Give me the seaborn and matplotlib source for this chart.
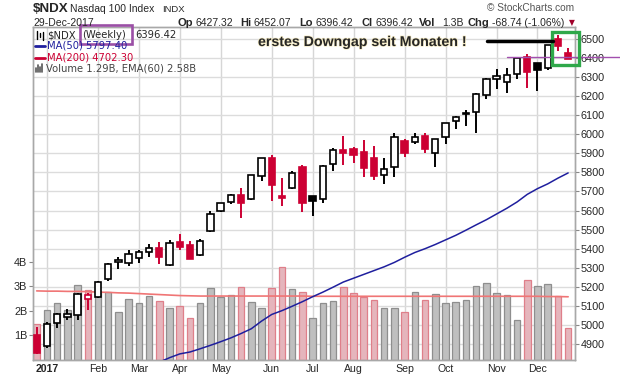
import matplotlib
matplotlib.use("Agg")
import matplotlib.pyplot as plt
import matplotlib.patheffects as pe
from matplotlib.patches import Rectangle
from matplotlib.lines import Line2D
from matplotlib.transforms import blended_transform_factory
import seaborn as sns

# weekly candles, last week of 2016 .. week of 29-Dec-2017
opens = [4947, 4891, 5008, 5040, 5050, 5138, 5148, 5239, 5329, 5323, 5350, 5381, 5402, 5313,
         5434, 5419, 5365, 5494, 5596, 5645, 5680, 5659, 5781, 5876, 5676, 5718, 5829, 5676,
         5659, 5844, 5916, 5921, 5906, 5874, 5785, 5830, 5965, 5958, 5990, 5900, 5984, 6068,
         6107, 6116, 6205, 6289, 6276, 6315, 6406, 6373, 6346, 6500, 6427.32]
highs = [4991, 5014, 5064, 5084, 5169, 5168, 5231, 5323, 5356, 5391, 5391, 5425, 5435, 5444,
         5477, 5439, 5449, 5598, 5640, 5687, 5718, 5787, 5876, 5892, 5771, 5808, 5839, 5677,
         5839, 5928, 5991, 5933, 5970, 5939, 5874, 6007, 5975, 6007, 6007, 5975, 6060, 6096,
         6128, 6217, 6294, 6341, 6350, 6405, 6420, 6373, 6470, 6521, 6452.07]
lows = [4848, 4877, 4985, 5024, 5028, 5078, 5143, 5232, 5295, 5311, 5327, 5355, 5321, 5310,
        5393, 5345, 5360, 5489, 5594, 5633, 5563, 5654, 5757, 5652, 5624, 5715, 5594, 5573,
        5641, 5809, 5840, 5851, 5778, 5762, 5741, 5778, 5881, 5949, 5903, 5830, 5948, 6029,
        6045, 6005, 6187, 6239, 6218, 6292, 6241, 6229, 6337, 6437, 6396.42]
closes = [4854, 5003, 5056, 5057, 5161, 5156, 5225, 5318, 5339, 5372, 5381, 5402, 5358, 5428,
          5410, 5348, 5440, 5580, 5638, 5680, 5641, 5785, 5874, 5736, 5666, 5796, 5641, 5649,
          5832, 5916, 5903, 5893, 5825, 5783, 5817, 5984, 5903, 5984, 5925, 5974, 6058, 6089,
          6110, 6210, 6289, 6306, 6311, 6402, 6329, 6337, 6467, 6465.16, 6396.42]
close_before = 4942  # close of the week before the first candle

# volume in billions
volumes = [1.46, 2.03, 2.31, 2.03, 3.05, 2.84, 2.80, 2.76, 1.95, 2.48, 2.31, 2.60, 2.40, 2.11,
           2.19, 1.70, 2.31, 2.93, 2.59, 2.64, 2.97, 2.35, 2.11, 2.93, 3.78, 2.88, 2.76, 1.70,
           2.31, 2.40, 2.97, 2.72, 2.56, 2.44, 2.11, 2.11, 1.95, 2.76, 2.44, 2.68, 2.31, 2.35,
           2.44, 3.01, 3.13, 2.72, 2.64, 1.62, 3.25, 3.01, 3.09, 2.60, 1.29]
ema60 = [2.82, 2.81, 2.81, 2.80, 2.80, 2.79, 2.77, 2.76, 2.74, 2.73, 2.71, 2.69, 2.67, 2.65,
         2.63, 2.62, 2.61, 2.61, 2.61, 2.61, 2.61, 2.61, 2.61, 2.61, 2.61, 2.61, 2.61, 2.60,
         2.60, 2.60, 2.60, 2.60, 2.60, 2.60, 2.60, 2.60, 2.60, 2.60, 2.60, 2.60, 2.60, 2.60,
         2.60, 2.60, 2.60, 2.60, 2.60, 2.60, 2.60, 2.60, 2.59, 2.59, 2.58]

ma50_weeks = list(range(12, 53))
ma50 = [4805, 4828, 4848, 4858, 4875, 4893, 4912, 4932, 4955, 4980, 5020, 5055, 5075, 5098,
        5122, 5148, 5172, 5198, 5225, 5245, 5265, 5285, 5305, 5328, 5355, 5380, 5400, 5422,
        5446, 5470, 5497, 5525, 5552, 5582, 5612, 5645, 5685, 5715, 5740, 5770, 5797.4]

month_pos = [1, 6, 10, 14, 18, 23, 27, 31, 36, 40, 45, 49]
month_labels = ["2017", "Feb", "Mar", "Apr", "May", "Jun", "Jul", "Aug", "Sep", "Oct", "Nov", "Dec"]
price_ticks = list(range(4900, 6600, 100))
vol_ticks = [1, 2, 3, 4]
vol_labels = ["1B", "2B", "3B", "4B"]

sns.set_style("white")
plt.rcParams["font.family"] = ["Liberation Sans", "DejaVu Sans"]

W, H = 620, 376
fig = plt.figure(figsize=(6.2, 3.76), dpi=100)


def fx(x):
    return x / W


def fy(y):
    return 1 - y / H


ax = fig.add_axes([fx(33), fy(360), fx(575) - fx(33), fy(27) - fy(360)])
axp = ax.twinx()

RED = "#cc0033"
weeks = list(range(len(closes)))
prev = [close_before] + closes[:-1]
down = [c < p for c, p in zip(closes, prev)]

# volume bars
ax.bar(weeks, volumes, width=0.64,
       color=["#e5b5bc" if d else "#bfbfbf" for d in down],
       edgecolor=["#df7f8a" if d else "#8e8e8e" for d in down], linewidth=0.9, zorder=2)
sns.lineplot(x=weeks, y=ema60, ax=ax, color="#f07575", lw=1.2, zorder=3)

# price grid on volume axes so it stays behind the bars
tr = blended_transform_factory(ax.transAxes, axp.transData)
for p in price_ticks:
    ax.plot([0, 1], [p, p], transform=tr, color="#dcdcdc", lw=1.0, zorder=1)
ax.set_xticks(month_pos)
ax.set_xticklabels(month_labels)
ax.xaxis.grid(True, color="#d6d6d6", lw=1.0, zorder=1)
ax.tick_params(axis="x", length=0, pad=3, labelsize=7.6)
ax.get_xticklabels()[0].set_fontweight("bold")
ax.set_yticks(vol_ticks)
ax.set_yticklabels(vol_labels)
ax.tick_params(axis="y", length=3, pad=1, labelsize=7.8, color="#888888")
ax.set_xlim(-0.36, 52.67)
ax.set_ylim(0, 13.59)

# MA(50)
sns.lineplot(x=ma50_weeks, y=ma50, ax=axp, color="#1f1f9e", lw=1.1, zorder=3)

# candles
for i in weeks:
    o, h, l, c = opens[i], highs[i], lows[i], closes[i]
    col = RED if down[i] else "black"
    axp.vlines(i, l, h, color=col, lw=1.4, zorder=4)
    face = "white" if c >= o else col
    axp.add_patch(Rectangle((i - 0.31, min(o, c)), 0.62, max(abs(c - o), 2),
                            facecolor=face, edgecolor=col, lw=1.2, zorder=5))

axp.set_ylim(4816, 6563)
axp.set_yticks(price_ticks)
axp.tick_params(axis="y", length=3, pad=1, labelsize=7.8, color="#888888")
axp.set_xlim(-0.36, 52.67)

for a in (ax, axp):
    for s in a.spines.values():
        s.set_color("#a8a8a8")
        s.set_linewidth(1.0)

# annotations
axp.plot([45.97, 57.1], [6404, 6404], color="#a24fae", lw=1.0, clip_on=False, zorder=6)
axp.add_patch(Rectangle((50.39, 6364), 2.67, 174, fill=False, edgecolor="#2fa84a",
                        lw=2.4, clip_on=False, zorder=7))
fig.text(fx(258), fy(42), "erstes Downgap seit Monaten !", fontsize=10.2, weight="bold",
         va="center", path_effects=[pe.withStroke(linewidth=1.0, foreground="#f6ecc4")])
fig.add_artist(Line2D([fx(487), fx(553)], [fy(41), fy(41)], color="black", lw=2.5))

# header
fig.text(fx(33), fy(9), "$NDX", fontsize=9.6, weight="bold", va="center")
fig.text(fx(70), fy(9), "Nasdaq 100 Index", fontsize=7.5, va="center")
fig.text(fx(162), fy(9.5), "INDX", fontsize=6.8, va="center")
fig.text(fx(487), fy(8), "\u00a9 StockCharts.com", fontsize=7.3, va="center", color="#555555")
fig.text(fx(33), fy(23), "29-Dec-2017", fontsize=7.5, va="center")
hdr = [(178, "Op", True), (196, "6427.32", False), (240, "Hi", True), (253, "6452.07", False),
       (299, "Lo", True), (315, "6396.42", False), (361, "Cl", True), (375, "6396.42", False),
       (419, "Vol", True), (442, "1.3B", False), (468, "Chg", True),
       (492, "-68.74 (-1.06%)", False)]
for x, t, b in hdr:
    fig.text(fx(x), fy(23), t, fontsize=8.0 if b else 7.5, weight="bold" if b else "normal",
             va="center")
fig.text(fx(569), fy(23), "\u25bc", fontsize=5.5, va="center", color="#a0002a",
         family="DejaVu Sans")

# legend block
lg = dict(fontsize=7.2, va="center", family="DejaVu Sans")
fig.text(fx(47), fy(35), "$NDX", **lg)
fig.text(fx(82), fy(35), "(Weekly)", **lg)
fig.text(fx(135), fy(35), "6396.42", **lg)
fig.text(fx(47), fy(46), "MA(50) 5797.40", color="#1f1f9e", **lg)
fig.text(fx(47), fy(57.5), "MA(200) 4702.30", color=RED, **lg)
fig.text(fx(46), fy(68.5), "Volume 1.29B, EMA(60) 2.58B", color="#444444", **lg)
fig.add_artist(Line2D([fx(35), fx(45)], [fy(46), fy(46)], color="#1f1f9e", lw=2))
fig.add_artist(Line2D([fx(35), fx(45)], [fy(57.5), fy(57.5)], color=RED, lw=2))
for k, hgt in enumerate([4, 7, 5, 8]):
    fig.add_artist(Line2D([fx(36 + 2 * k)] * 2, [fy(72), fy(72 - hgt)], color="#555555", lw=1.2))
for k, (a, b) in enumerate([(31, 39), (33, 37), (32, 40)]):
    fig.add_artist(Line2D([fx(37 + 3 * k)] * 2, [fy(b), fy(a)], color="black", lw=1.0))
fig.add_artist(Rectangle((fx(80), fy(44)), fx(132) - fx(80), fy(25.3) - fy(44), fill=False,
                         edgecolor="#9b4fa6", lw=1.9, transform=fig.transFigure))

fig.savefig("out.png", dpi=100)
